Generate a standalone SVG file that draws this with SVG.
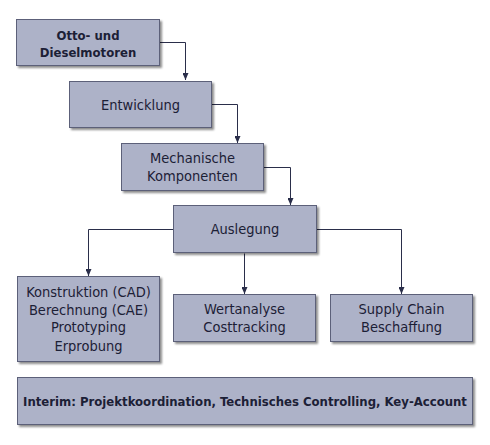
<svg xmlns="http://www.w3.org/2000/svg" width="490" height="445" viewBox="0 0 490 445">
<defs>
<filter id="sh" x="-10%" y="-10%" width="130%" height="140%">
<feGaussianBlur in="SourceAlpha" stdDeviation="1"/>
<feOffset dx="2" dy="2" result="b"/>
<feComponentTransfer><feFuncA type="linear" slope="0.45"/></feComponentTransfer>
<feMerge><feMergeNode/><feMergeNode in="SourceGraphic"/></feMerge>
</filter>
<marker id="ah" markerWidth="7" markerHeight="6" refX="7" refY="3" orient="auto" markerUnits="userSpaceOnUse">
<path d="M0,0 L7,3 L0,6 Z" fill="#2a2e4a"/>
</marker>
<style>
.box{fill:#adb2c8;stroke:#5c6079;stroke-width:1;filter:url(#sh)}
.t{font-family:"DejaVu Sans Condensed","DejaVu Sans",sans-serif;font-size:14.5px;fill:#1c2036;text-anchor:middle}
.b{font-weight:bold;font-size:13px}
.c{fill:none;stroke:#2a2e4a;stroke-width:1}
</style>
</defs>
<rect width="490" height="445" fill="#ffffff"/>
<g id="connectors">
<path class="c" d="M159.5,42.5 H185.5 V80" marker-end="url(#ah)"/>
<path class="c" d="M211.5,104.5 H237.5 V143" marker-end="url(#ah)"/>
<path class="c" d="M263.5,167.5 H290.5 V205" marker-end="url(#ah)"/>
<path class="c" d="M173.5,229.5 H88.5 V276" marker-end="url(#ah)"/>
<path class="c" d="M244.5,253.5 V294" marker-end="url(#ah)"/>
<path class="c" d="M316.5,229.5 H401.5 V294" marker-end="url(#ah)"/>
</g>
<g id="n1"><rect class="box" x="16.5" y="19.5" width="143" height="46"/>
<text class="t b" x="88" y="40">Otto- und</text><text class="t b" x="88" y="57">Dieselmotoren</text></g>
<g id="n2"><rect class="box" x="69.5" y="81.5" width="142" height="46"/>
<text class="t" x="140.5" y="110">Entwicklung</text></g>
<g id="n3"><rect class="box" x="121.5" y="143.5" width="142" height="47"/>
<text class="t" x="192.5" y="163">Mechanische</text><text class="t" x="192.5" y="181">Komponenten</text></g>
<g id="n4"><rect class="box" x="173.5" y="205.5" width="143" height="47"/>
<text class="t" x="245" y="234">Auslegung</text></g>
<g id="n5"><rect class="box" x="17.5" y="276.5" width="142" height="85"/>
<text class="t" x="88.5" y="297">Konstruktion (CAD)</text><text class="t" x="88.5" y="315">Berechnung (CAE)</text><text class="t" x="88.5" y="332">Prototyping</text><text class="t" x="88.5" y="351">Erprobung</text></g>
<g id="n6"><rect class="box" x="173.5" y="294.5" width="142" height="47"/>
<text class="t" x="244.5" y="314">Wertanalyse</text><text class="t" x="244.5" y="332">Costtracking</text></g>
<g id="n7"><rect class="box" x="330.5" y="294.5" width="142" height="47"/>
<text class="t" x="401.5" y="314">Supply Chain</text><text class="t" x="401.5" y="332">Beschaffung</text></g>
<g id="n8"><rect class="box" x="17.5" y="377.5" width="455" height="47"/>
<text class="t b" x="245" y="406">Interim: Projektkoordination, Technisches Controlling, Key-Account</text></g>
</svg>
